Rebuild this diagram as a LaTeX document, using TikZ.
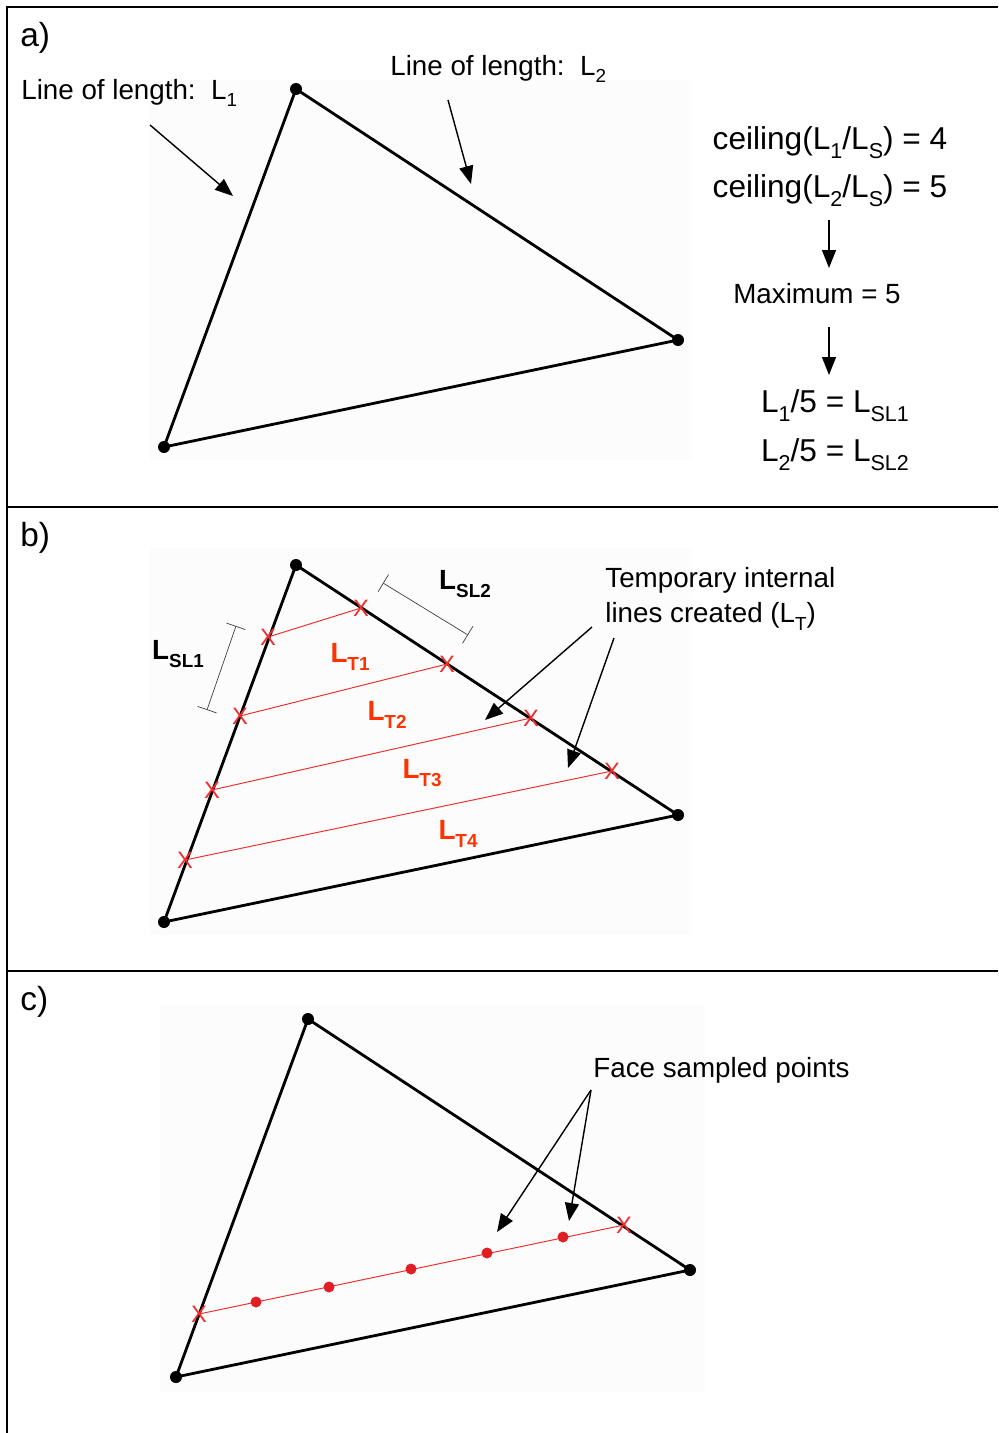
\documentclass[tikz,border=0pt]{standalone}
\usepackage{fontspec}
\setmainfont{Liberation Sans}
\usetikzlibrary{arrows.meta}
\definecolor{markred}{RGB}{240, 45, 45}
\definecolor{labred}{RGB}{255, 51, 0}
\definecolor{dotred}{RGB}{225, 30, 35}
\newcommand{\lsub}[1]{\raisebox{-0.28em}{\scalebox{0.68}{#1}}}

\begin{document}
\begin{tikzpicture}[x=0.02cm, y=-0.02cm,
    tri/.style={line width=1.6pt, line join=round},
    vtx/.style={circle, fill=black, inner sep=0pt, minimum size=0.24cm},
    ptr/.style={-{Triangle[length=0.36cm, width=0.28cm]}, line width=0.8pt},
    lbl/.style={inner sep=0pt, font=\fontsize{15.8}{19.8}\selectfont},
    eqn/.style={inner sep=0pt, font=\fontsize{18}{22}\selectfont},
    panel/.style={inner sep=0pt, anchor=west, font=\fontsize{19}{23}\selectfont},
    xmark/.style={inner sep=0pt, text=markred, font=\fontsize{13.5}{14}\selectfont},
    tline/.style={markred, line width=0.55pt},
    tlbl/.style={inner sep=0pt, text=labred, font=\bfseries\fontsize{15.8}{19}\selectfont},
    blbl/.style={inner sep=0pt, font=\bfseries\fontsize{15.8}{19}\selectfont},
    dimbar/.style={{Bar[width=0.4cm]}-{Bar[width=0.4cm]}, line width=0.4pt, black!75},
    sdot/.style={circle, fill=dotred, inner sep=0pt, minimum size=0.22cm},
    bg/.style={fill=black!1, draw=none}]
    \useasboundingbox (0,0) rectangle (998,1433);

    %% frame
    \draw[line width=1.1pt] (7,1433) -- (7,7) -- (998,7);
    \draw[line width=1.1pt] (7,507) -- (998,507);
    \draw[line width=1.1pt] (7,971) -- (998,971);

    %% a) edge lengths
    \node[panel] (pa) at (20,38) {a)};
    \fill[bg] (150,80) rectangle (692,460);
    \node[vtx] (a1) at (296,89) {};
    \node[vtx] (a2) at (678,340) {};
    \node[vtx] (a3) at (164,447) {};
    \draw[tri] (a1.center) -- (a2.center) -- (a3.center) -- cycle;

    \node[lbl, anchor=west] (len1) at (21,93) {Line of length:\ \ L\lsub{1}};
    \node[lbl, anchor=west] (len2) at (390,69) {Line of length:\ \ L\lsub{2}};
    \coordinate (len1s) at (150,125);
    \coordinate (len1e) at (233,196);
    \coordinate (len2s) at (448,100);
    \coordinate (len2e) at (471,184);
    \draw[ptr] (len1s) -- (len1e);
    \draw[ptr] (len2s) -- (len2e);

    \node[eqn] (ceil1) at (830,143) {ceiling(L\lsub{1}/L\lsub{S}) = 4};
    \node[eqn] (ceil2) at (830,191) {ceiling(L\lsub{2}/L\lsub{S}) = 5};
    \node[lbl] (maxi) at (817,294) {Maximum = 5};
    \node[eqn] (sl1) at (835,406) {L\lsub{1}/5 = L\lsub{SL1}};
    \node[eqn] (sl2) at (835,455) {L\lsub{2}/5 = L\lsub{SL2}};
    \coordinate (step1s) at (829,220);
    \coordinate (step1e) at (829,268);
    \coordinate (step2s) at (829,327);
    \coordinate (step2e) at (829,375);
    \draw[ptr] (step1s) -- (step1e);
    \draw[ptr] (step2s) -- (step2e);

    %% b) temporary internal lines
    \node[panel] (pb) at (20,538) {b)};
    \fill[bg] (150,548) rectangle (692,935);
    \node[vtx] (b1) at (296,565) {};
    \node[vtx] (b2) at (678,815) {};
    \node[vtx] (b3) at (164,922) {};
    \draw[tri] (b1.center) -- (b2.center) -- (b3.center) -- cycle;

    \coordinate (t1l) at (268,637);
    \coordinate (t1r) at (361,608);
    \coordinate (t2l) at (240,716);
    \coordinate (t2r) at (447,664);
    \coordinate (t3l) at (212,790);
    \coordinate (t3r) at (531,718);
    \coordinate (t4l) at (185,860);
    \coordinate (t4r) at (612,771);
    \foreach \i in {1,...,4} {
      \draw[tline] (t\i l) -- (t\i r);
      \node[xmark] (x\i l) at (t\i l) {X};
      \node[xmark] (x\i r) at (t\i r) {X};
    }
    \node[tlbl] (lt1) at (350,657) {L\lsub{T1}};
    \node[tlbl] (lt2) at (387,715) {L\lsub{T2}};
    \node[tlbl] (lt3) at (422,773) {L\lsub{T3}};
    \node[tlbl] (lt4) at (458,834) {L\lsub{T4}};

    \node[blbl] (lsl1) at (178,654) {L\lsub{SL1}};
    \node[blbl] (lsl2) at (465,584) {L\lsub{SL2}};
    \coordinate (d1a) at (236,626);
    \coordinate (d1b) at (207,710);
    \coordinate (d2a) at (383,583);
    \coordinate (d2b) at (468,635);
    \draw[dimbar] (d1a) -- (d1b);
    \draw[dimbar] (d2a) -- (d2b);

    \node[lbl, anchor=west, align=left] (tmp) at (605,599)
      {Temporary internal\\lines created (L\lsub{T})};
    \coordinate (tmpAs) at (592,627);
    \coordinate (tmpAe) at (485,720);
    \coordinate (tmpBs) at (614,638);
    \coordinate (tmpBe) at (568,768);
    \draw[ptr] (tmpAs) -- (tmpAe);
    \draw[ptr] (tmpBs) -- (tmpBe);

    %% c) sampled points
    \node[panel] (pc) at (20,1002) {c)};
    \fill[bg] (160,1005) rectangle (705,1392);
    \node[vtx] (c1) at (308,1019) {};
    \node[vtx] (c2) at (690,1270) {};
    \node[vtx] (c3) at (176,1377) {};
    \draw[tri] (c1.center) -- (c2.center) -- (c3.center) -- cycle;

    \coordinate (sl) at (199,1314);
    \coordinate (sr) at (624,1225);
    \draw[tline] (sl) -- (sr);
    \node[xmark] (sxl) at (sl) {X};
    \node[xmark] (sxr) at (sr) {X};
    \foreach \px/\py [count=\k] in {256/1302, 329/1287, 411/1269, 487/1253, 563/1237}
      \node[sdot] (s\k) at (\px,\py) {};

    \node[lbl, anchor=west] (face) at (593,1070) {Face sampled points};
    \coordinate (faceA) at (591,1090);
    \coordinate (faceAe) at (497,1232);
    \coordinate (faceBe) at (569,1221);
    \draw[ptr] (faceA) -- (faceAe);
    \draw[ptr] (faceA) -- (faceBe);
  \end{tikzpicture}
\end{document}
